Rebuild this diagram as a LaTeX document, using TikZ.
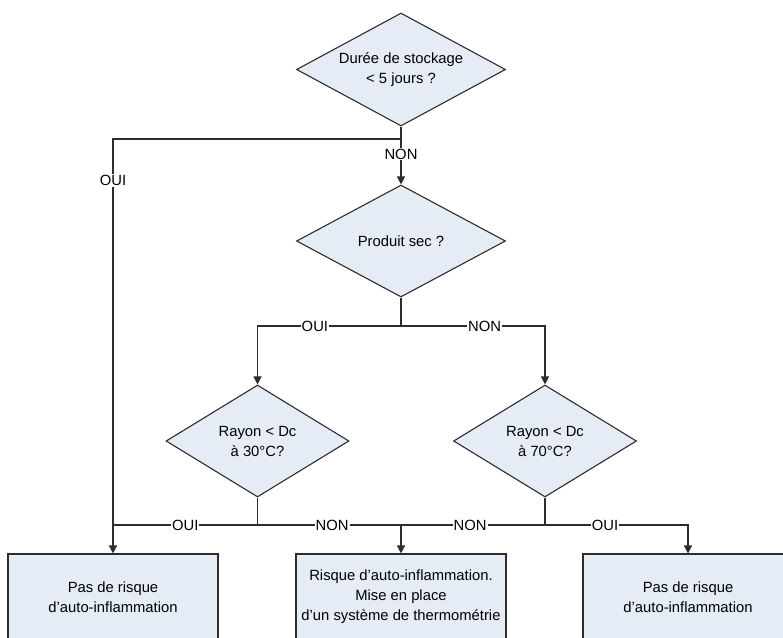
\documentclass[tikz,border=0pt]{standalone}
\usepackage{fontspec}
\setmainfont{Liberation Sans}
\usepackage{xcolor}
\usepackage{tikz}
\usetikzlibrary{arrows.meta, positioning, shapes.geometric}
\definecolor{stockfill}{RGB}{229, 236, 246}
\definecolor{stockline}{RGB}{45, 45, 45}

\begin{document}
\begin{tikzpicture}[x=1pt, y=-1pt,
        every node/.style={font=\fontsize{14.8}{20}\selectfont},
        question/.style={diamond, aspect=1.8, draw=stockline, fill=stockfill, line width=1.1pt, inner sep=0pt, align=center},
        result/.style={rectangle, draw=stockline, fill=stockfill, line width=1.1pt, minimum width=210pt, minimum height=86pt, align=center},
        lbl/.style={fill=white, inner sep=1pt},
        link/.style={draw=stockline, line width=1.3pt},
        arrow/.style={link, -{Triangle[length=8pt, width=8pt]}}
    ]
        \useasboundingbox (0,0) rectangle (783,637);
        \clip (0,0) rectangle (783,637);
        \fill[white] (0,0) rectangle (783,637);
        % questions
        \node[question, minimum width=209pt, minimum height=113pt] (duree) at (401,69.5) {Durée de stockage\\< 5 jours ?};
        \node[question, minimum width=209pt, minimum height=112pt] (sec) at (401,241) {Produit sec ?};
        \node[question, minimum width=183pt, minimum height=112pt] (ray30) at (257.5,441) {Rayon < Dc\\à 30°C?};
        \node[question, minimum width=183pt, minimum height=112pt] (ray70) at (545,441) {Rayon < Dc\\à 70°C?};
        % results
        \node[result] (norisk1) at (113,597) {Pas de risque\\d'auto-inflammation};
        \node[result] (risk) at (401,597) {Risque d'auto-inflammation.\\Mise en place\\d'un système de thermométrie};
        \node[result] (norisk2) at (688,597) {Pas de risque\\d'auto-inflammation};
        % branch points
        \coordinate (j1) at (401,139);
        \coordinate (j2) at (401,326);
        \coordinate (j3) at (257.5,525);
        \coordinate (j4) at (545,525);
        % connectors
        \draw[link] (duree.south) -- (j1);
        \draw[arrow] (j1) -| (norisk1.north) node[lbl, pos=0.55] {OUI};
        \draw[arrow] (j1) -- (sec.north) node[lbl, pos=0.33] {NON};
        \draw[link] (sec.south) -- (j2);
        \draw[arrow] (j2) -| (ray30.north) node[lbl, pos=0.3] {OUI};
        \draw[arrow] (j2) -| (ray70.north) node[lbl, pos=0.29] {NON};
        \draw[link] (ray30.south) -- (j3);
        \draw[link] (j3) -- (j3 -| norisk1.north) node[lbl, pos=0.5] {OUI};
        \draw[arrow] (j3) -| (risk.north) node[lbl, pos=0.26] {NON};
        \draw[link] (ray70.south) -- (j4);
        \draw[link] (j4) -- (j4 -| risk.north) node[lbl, pos=0.52] {NON};
        \draw[arrow] (j4) -| (norisk2.north) node[lbl, pos=0.21] {OUI};
    \end{tikzpicture}
\end{document}
